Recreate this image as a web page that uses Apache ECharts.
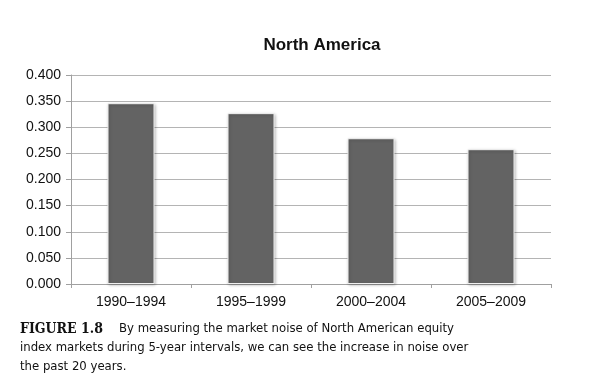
<!DOCTYPE html>
<html><head><meta charset="utf-8">
<script src="https://cdn.jsdelivr.net/npm/echarts@6/dist/echarts.min.js"></script>
<style>html,body{margin:0;padding:0;background:#fff}#c{width:600px;height:385px}</style>
</head><body><div id="c"></div>
<script>
const categories = ['1990–1994', '1995–1999', '2000–2004', '2005–2009'];
const noiseValues = [0.346, 0.327, 0.279, 0.258];
const yTicks = [0, 0.05, 0.1, 0.15, 0.2, 0.25, 0.3, 0.35, 0.4];
const chartTitle = 'North America';
const captionLabel = 'FIGURE 1.8';
const captionLines = [
  'By measuring the market noise of North American equity',
  'index markets during 5-year intervals, we can see the increase in noise over',
  'the past 20 years.'
];

const chart = echarts.init(document.getElementById('c'), null, {renderer: 'canvas'});
chart.setOption({
  animation: false,
  backgroundColor: '#fff',
  title: {
    text: chartTitle, left: 317, top: 32, textAlign: 'center',
    textStyle: {fontFamily: 'Liberation Sans', fontWeight: 'bold', fontSize: 17, color: '#111'}
  },
  grid: {left: 71, right: 49, top: 75, bottom: 101, containLabel: false},
  xAxis: {
    type: 'category', data: categories,
    axisLine: {lineStyle: {color: '#a0a0a0', width: 1}},
    axisTick: {show: true, length: 4, alignWithLabel: false, lineStyle: {color: '#a0a0a0'}},
    axisLabel: {fontFamily: 'Liberation Sans', fontSize: 14, color: '#111', margin: 11}
  },
  yAxis: {
    type: 'value', min: 0, max: yTicks[yTicks.length - 1], interval: 0.05,
    axisLine: {show: true, lineStyle: {color: '#a0a0a0'}},
    axisTick: {show: true, length: 5, lineStyle: {color: '#a0a0a0'}},
    splitLine: {lineStyle: {color: '#b4b4b4', width: 1}},
    axisLabel: {fontFamily: 'Liberation Sans', fontSize: 14, color: '#111', margin: 10,
      formatter: v => v.toFixed(3)}
  },
  series: [{
    type: 'bar', data: noiseValues, barWidth: 47,
    itemStyle: {color: '#636363', borderColor: '#f0f0f0', borderWidth: 1,
      shadowColor: 'rgba(0,0,0,0.25)', shadowBlur: 3, shadowOffsetX: 1, shadowOffsetY: 1}
  }],
  graphic: [
    {type: 'text', left: 20, top: 322, style: {
      text: captionLabel, font: 'bold 14px "DejaVu Serif Condensed", "DejaVu Serif", serif', fill: '#111'}},
    {type: 'text', left: 119, top: 322, style: {
      text: captionLines[0], font: '13px "DejaVu Sans Condensed", "DejaVu Sans", sans-serif', fill: '#111'}},
    {type: 'text', left: 20, top: 341, style: {
      text: captionLines[1], font: '13px "DejaVu Sans Condensed", "DejaVu Sans", sans-serif', fill: '#111'}},
    {type: 'text', left: 20, top: 360, style: {
      text: captionLines[2], font: '13px "DejaVu Sans Condensed", "DejaVu Sans", sans-serif', fill: '#111'}}
  ]
});
</script></body></html>
